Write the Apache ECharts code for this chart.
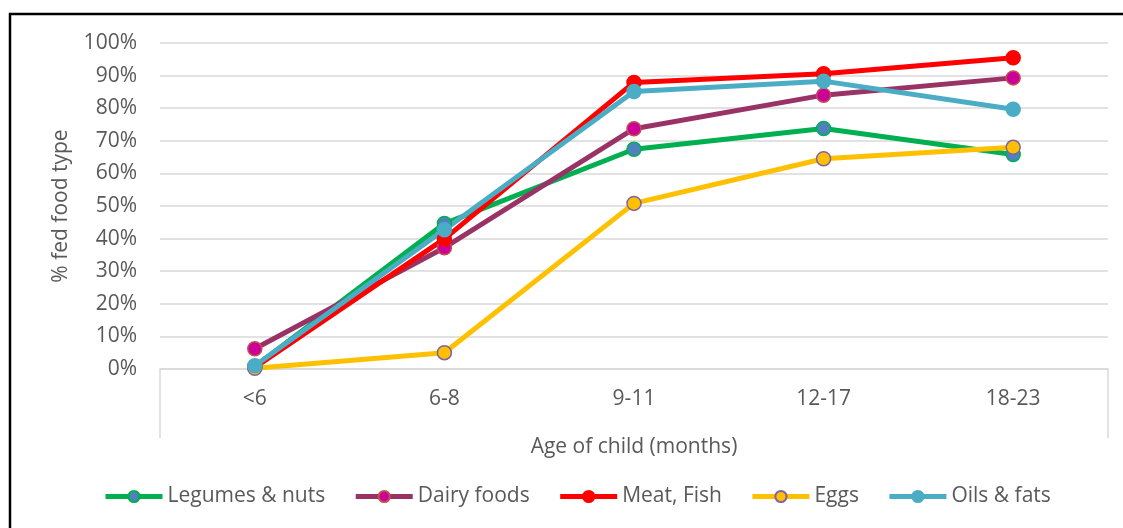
<!DOCTYPE html>
<html>
<head>
<meta charset="utf-8">
<script src="https://cdn.jsdelivr.net/npm/echarts@6/dist/echarts.min.js"></script>
<style>
  html, body { margin: 0; padding: 0; background: #fff; }
  #chart { width: 1123px; height: 528px; }
</style>
</head>
<body>
<div id="chart"></div>
<script>
// Age groups (months) and share of children fed each food type (%)
const ageGroups = ['<6', '6-8', '9-11', '12-17', '18-23'];
const legumesNuts = [0.8, 44.6, 67.4, 73.8, 65.8];
const dairyFoods  = [6.2, 37.2, 73.7, 84.0, 89.3];
const meatFish    = [0.5, 39.9, 87.9, 90.6, 95.5];
const eggs        = [0.2, 5.0, 50.8, 64.5, 68.0];
const oilsFats    = [1.0, 42.7, 85.1, 88.3, 79.7];

const FONT = '"Open Sans", "DejaVu Sans", sans-serif';
const TEXT = '#595959';
const FS = 21;

function lineSeries(name, data, lineColor, fill, border) {
  return {
    name: name,
    type: 'line',
    data: data,
    symbol: 'circle',
    symbolSize: 14,
    lineStyle: { color: lineColor, width: 5 },
    itemStyle: { color: fill, borderColor: border, borderWidth: 1.5 },
    emphasis: { disabled: true },
    animation: false
  };
}

const chart = echarts.init(document.getElementById('chart'), null, { renderer: 'canvas' });

chart.setOption({
  backgroundColor: '#ffffff',
  textStyle: { fontFamily: FONT },
  grid: { left: 160, right: 15, top: 43, bottom: 159 },
  legend: {
    bottom: 16,
    left: 98,
    itemWidth: 57,
    itemHeight: 14,
    itemGap: 28,
    lineStyle: { width: 5 },
    textStyle: { fontFamily: FONT, fontSize: FS, color: TEXT },
    data: ['Legumes & nuts', 'Dairy foods', 'Meat, Fish', 'Eggs', 'Oils & fats']
  },
  xAxis: {
    type: 'category',
    data: ageGroups,
    boundaryGap: true,
    name: 'Age of child (months)',
    nameLocation: 'middle',
    nameGap: 68,
    nameTextStyle: { fontFamily: FONT, fontSize: FS, color: TEXT },
    axisLine: { lineStyle: { color: '#D9D9D9', width: 1.5 } },
    axisTick: { show: false },
    axisLabel: { fontFamily: FONT, fontSize: FS, color: TEXT, margin: 20 }
  },
  yAxis: {
    type: 'value',
    min: 0,
    max: 100,
    interval: 10,
    name: '% fed food type',
    nameLocation: 'middle',
    nameGap: 88,
    nameTextStyle: { fontFamily: FONT, fontSize: FS, color: TEXT },
    axisLine: { show: false },
    axisTick: { show: false },
    axisLabel: { fontFamily: FONT, fontSize: FS, color: TEXT, margin: 23, formatter: '{value}%' },
    splitLine: { lineStyle: { color: '#D9D9D9', width: 1.5 } }
  },
  graphic: [
    // chart frame
    { type: 'rect', shape: { x: 10, y: 14, width: 1300, height: 700 },
      style: { fill: 'none', stroke: '#000', lineWidth: 2.5 }, silent: true, z: 100 },
    // category band outer edges
    { type: 'line', shape: { x1: 160, y1: 369, x2: 160, y2: 438 },
      style: { stroke: '#D9D9D9', lineWidth: 1.5 }, silent: true },
    { type: 'line', shape: { x1: 1108, y1: 369, x2: 1108, y2: 438 },
      style: { stroke: '#D9D9D9', lineWidth: 1.5 }, silent: true }
  ],
  series: [
    lineSeries('Legumes & nuts', legumesNuts, '#00B050', '#4F81BD', '#00B050'),
    lineSeries('Dairy foods', dairyFoods, '#993366', '#CC0099', '#C0504D'),
    lineSeries('Meat, Fish', meatFish, '#FF0000', '#FF0000', '#FF0000'),
    lineSeries('Eggs', eggs, '#FFC000', '#FFC000', '#8064A2'),
    lineSeries('Oils & fats', oilsFats, '#4BACC6', '#4BACC6', '#4BACC6')
  ]
});
</script>
</body>
</html>
